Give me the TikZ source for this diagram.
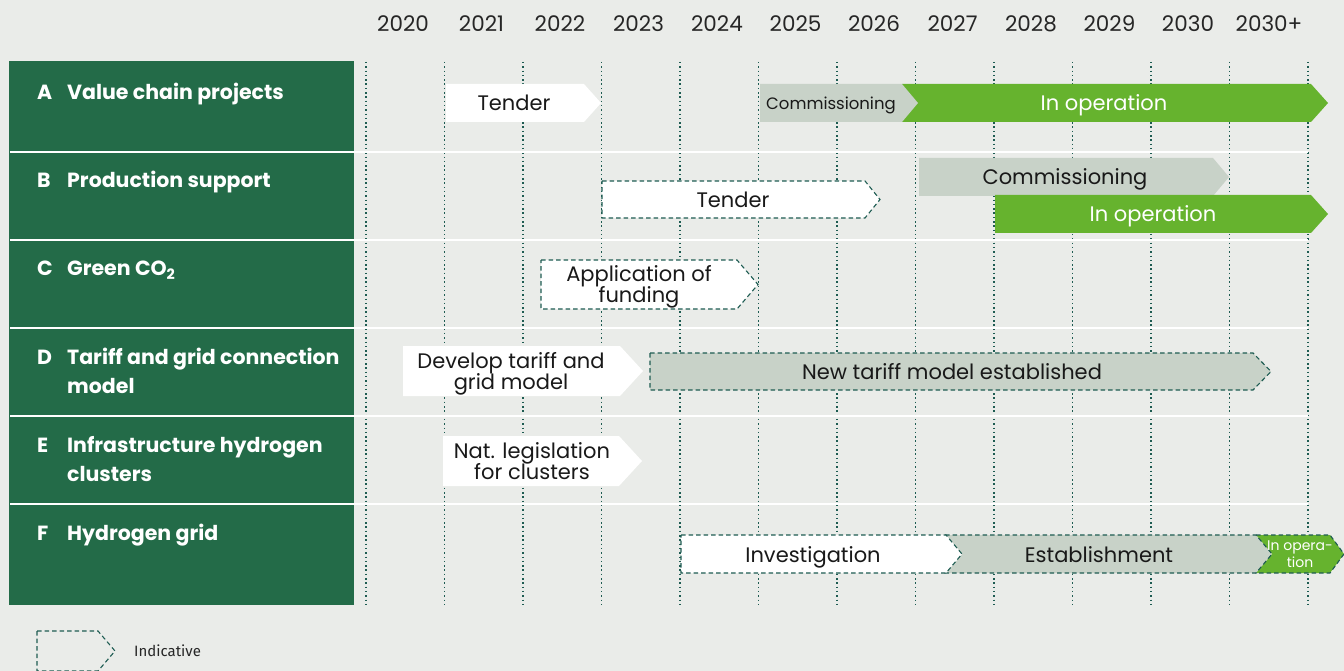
\documentclass[tikz,border=0pt]{standalone}
\usepackage{fontspec}
\setmainfont{Poppins}
\newfontfamily\legendfont{Fira Sans}
\definecolor{bg}{HTML}{EAECE9}
\definecolor{panel}{HTML}{236B48}
\definecolor{teal}{HTML}{1E5C52}
\definecolor{barGray}{HTML}{C8D2C8}
\definecolor{barGreen}{HTML}{66B32E}
\newcommand{\chevron}[6][]{\path[#1] (#2,#5) -- (#3,#5) -- (#4,{(#5+#6)/2}) -- (#3,#6) -- (#2,#6) -- cycle;}
\tikzset{
  yearlabel/.style={font=\fontsize{21.5}{22}\selectfont,text=black!85},
  rowletter/.style={anchor=base west,inner sep=0pt,text=white,font=\bfseries\fontsize{20.5}{29}\selectfont},
  rowtitle/.style={anchor=base west,inner sep=0pt,text=white,align=left,font={\bfseries\fontsize{20.5}{29}\selectfont\lineskiplimit=-9pt}},
  bartext/.style={anchor=base,align=center,inner sep=0pt,text=black!90,font={\fontsize{21}{21}\selectfont\lineskiplimit=-9pt}},
  gridline/.style={teal,line width=1.5pt,dash pattern=on 1.5pt off 2.8pt},
  sepline/.style={white,line width=2pt},
  whitebar/.style={fill=white},
  graybar/.style={fill=barGray},
  greenbar/.style={fill=barGreen},
  indicative/.style={draw=teal,dash pattern=on 4.5pt off 3pt,line width=1.1pt}
}
\begin{document}
\begin{tikzpicture}[x=1pt,y=-1pt]
  \useasboundingbox[fill=bg] (0,0) rectangle (1344,671);
  \fill[panel] (9,61) rectangle (354,605);
  \foreach \yr [count=\i from 0] in {2020,...,2030}
    \node[yearlabel] (y\yr) at ({403+78.5*\i},24) {\yr};
  \node[yearlabel] (ylater) at (1269,24) {2030+};
  \foreach \i in {0,...,12}
    \draw[gridline] ({366+78.5*\i},62) -- ({366+78.5*\i},605);
  \foreach \y in {152,240,328,416,504}
    \draw[sepline] (10,\y) -- (1308,\y);

  \node[rowletter] (la) at (37,100) {A};
  \node[rowtitle]  (ta) at (67,100) {Value chain projects};
  \node[rowletter] (lb) at (37,188) {B};
  \node[rowtitle]  (tb) at (67,188) {Production support};
  \node[rowletter] (lc) at (37,276) {C};
  \node[rowtitle]  (tc) at (67,276) {Green CO\textsubscript{2}};
  \node[rowletter] (ld) at (37,364) {D};
  \node[rowtitle]  (td) at (67,393) {Tariff and grid connection\\model};
  \node[rowletter] (le) at (37,452) {E};
  \node[rowtitle]  (te) at (67,481) {Infrastructure hydrogen\\clusters};
  \node[rowletter] (lf) at (37,540) {F};
  \node[rowtitle]  (tf) at (67,540) {Hydrogen grid};

  \chevron[whitebar]{446}{584}{601}{84}{122}
  \chevron[greenbar]{902}{1311}{1328}{84}{122}
  \chevron[graybar]{760}{902}{918}{84}{122}
  \node[bartext] (aTender) at (514,111) {Tender};
  \node[bartext,font=\fontsize{16.5}{18}\selectfont] (aComm) at (831,110) {Commissioning};
  \node[bartext,text=white] (aOper) at (1104,111) {In operation};

  \chevron[whitebar,indicative]{602}{865}{880}{181}{218}
  \chevron[graybar]{919}{1213}{1229}{158}{196}
  \chevron[greenbar]{995}{1311}{1328}{195}{233}
  \node[bartext] (bTender) at (733,208) {Tender};
  \node[bartext] (bComm) at (1065,185) {Commissioning};
  \node[bartext,text=white] (bOper) at (1153,222) {In operation};

  \chevron[whitebar,indicative]{541}{737}{758}{260}{309}
  \node[bartext] (cFund) at (639,302) {Application of\\funding};

  \chevron[whitebar]{403}{620}{643}{346}{396}
  \chevron[graybar,indicative]{650}{1253}{1271}{353}{390}
  \node[bartext] (dDevelop) at (511,389) {Develop tariff and\\grid model};
  \node[bartext] (dTariff) at (952,379) {New tariff model established};

  \chevron[whitebar]{443}{619}{642}{436}{486}
  \node[bartext] (eLegis) at (532,479) {Nat. legislation\\for clusters};

  \chevron[greenbar,indicative]{1256}{1330}{1344}{535}{573}
  \chevron[graybar,indicative]{945}{1256}{1272}{535}{573}
  \chevron[whitebar,indicative]{681}{946}{962}{535}{573}
  \node[bartext] (fInvest) at (813,562) {Investigation};
  \node[bartext] (fEstab) at (1099,562) {Establishment};
  \node[bartext,text=white,font={\fontsize{14}{17}\selectfont\lineskiplimit=-9pt}] (fOper) at (1300,567) {In opera-\\tion};

  \chevron[indicative]{37}{98}{115}{631}{671}
  \node[anchor=west,inner sep=0pt,font=\legendfont\fontsize{15}{16}\selectfont,text=black!85] (legend) at (134,651) {Indicative};
\end{tikzpicture}
\end{document}
